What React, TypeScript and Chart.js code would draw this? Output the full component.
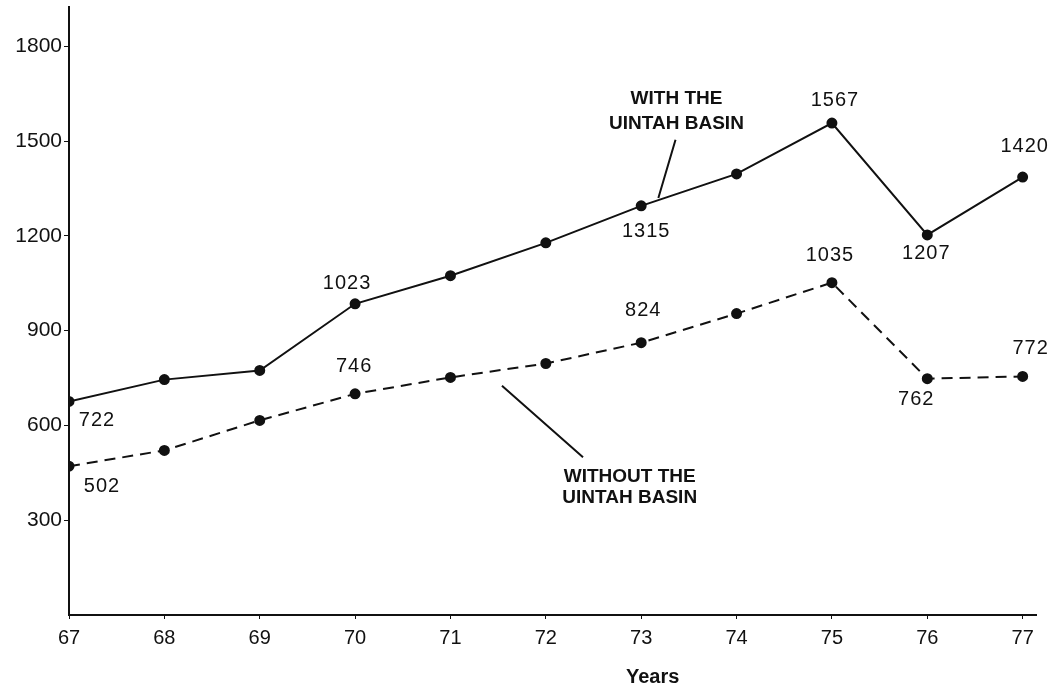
import React, { useEffect, useRef } from "react";
import { Chart, registerables } from "chart.js";

Chart.register(...registerables);

// ---- data ----
const years = [67, 68, 69, 70, 71, 72, 73, 74, 75, 76, 77];
const withBasin = [676, 745, 774, 985, 1074, 1178, 1295, 1396, 1557, 1203, 1386];
const withoutBasin = [471, 521, 616, 700, 752, 796, 862, 954, 1052, 748, 755];
const withLabels = ["722", "", "", "1023", "", "", "1315", "", "1567", "1207", "1420"];
const withoutLabels = ["502", "", "", "746", "", "", "824", "", "1035", "762", "772"];
const yTickValues = [300, 600, 900, 1200, 1500, 1800];
const xTitle = "Years";
const withName = ["WITH THE", "UINTAH BASIN"];
const withoutName = ["WITHOUT THE", "UINTAH BASIN"];

// ---- label placement (pixel offsets from each point) ----
const withOffsets: Record<number, [number, number]> = {
  0: [28, 19], 3: [-8, -20], 6: [5, 26], 8: [3, -23], 9: [-1, 19], 10: [2, -31],
};
const withoutOffsets: Record<number, [number, number]> = {
  0: [33, 20], 3: [-1, -27], 6: [2, -32], 8: [-2, -27], 9: [-11, 21], 10: [8, -28],
};

const FONT = "'Liberation Sans', Arial, Helvetica, sans-serif";

const annotationPlugin = {
  id: "annotations",
  afterDatasetsDraw(chart: any) {
    const ctx = chart.ctx as CanvasRenderingContext2D;
    const xs = chart.scales.x;
    const ys = chart.scales.y;
    ctx.save();
    ctx.fillStyle = "#111";
    ctx.textAlign = "center";
    ctx.textBaseline = "middle";
    ctx.font = `20px ${FONT}`;
    (ctx as any).letterSpacing = "1px";
    const drawLabels = (vals: number[], labels: string[], offs: Record<number, [number, number]>) => {
      labels.forEach((t, i) => {
        if (!t) return;
        const px = xs.getPixelForValue(years[i]);
        const py = ys.getPixelForValue(vals[i]);
        const o = offs[i] || [0, -20];
        ctx.fillText(t, px + o[0], py + o[1]);
      });
    };
    drawLabels(withBasin, withLabels, withOffsets);
    drawLabels(withoutBasin, withoutLabels, withoutOffsets);

    // series name annotations
    (ctx as any).letterSpacing = "0px";
    ctx.font = `bold 19px ${FONT}`;
    const wx = xs.getPixelForValue(73.37);
    ctx.fillText(withName[0], wx, ys.getPixelForValue(1634));
    ctx.fillText(withName[1], wx, ys.getPixelForValue(1555));
    const ox = xs.getPixelForValue(72.88);
    ctx.fillText(withoutName[0], ox, ys.getPixelForValue(436));
    ctx.fillText(withoutName[1], ox, ys.getPixelForValue(370));

    // leader lines
    ctx.strokeStyle = "#111";
    ctx.lineWidth = 2;
    ctx.beginPath();
    ctx.moveTo(xs.getPixelForValue(73.36), ys.getPixelForValue(1504));
    ctx.lineTo(xs.getPixelForValue(73.18), ys.getPixelForValue(1320));
    ctx.moveTo(xs.getPixelForValue(71.54), ys.getPixelForValue(726));
    ctx.lineTo(xs.getPixelForValue(72.39), ys.getPixelForValue(499));
    ctx.stroke();

    // axis title
    ctx.font = `bold 20px ${FONT}`;
    ctx.fillText(xTitle, xs.getPixelForValue(73.12), 677);
    ctx.restore();
  },
};

export default function App() {
  const ref = useRef<HTMLCanvasElement | null>(null);
  useEffect(() => {
    if (!ref.current) return;
    const chart = new Chart(ref.current, {
      type: "line",
      data: {
        datasets: [
          {
            label: "With the Uintah Basin",
            data: years.map((x, i) => ({ x, y: withBasin[i] })),
            borderColor: "#111",
            backgroundColor: "#111",
            borderWidth: 2,
            pointRadius: 4.5,
            pointBackgroundColor: "#111",
            pointBorderColor: "#111",
            tension: 0,
          },
          {
            label: "Without the Uintah Basin",
            data: years.map((x, i) => ({ x, y: withoutBasin[i] })),
            borderColor: "#111",
            backgroundColor: "#111",
            borderWidth: 2,
            borderDash: [11, 7],
            pointRadius: 4.5,
            pointBackgroundColor: "#111",
            pointBorderColor: "#111",
            tension: 0,
          },
        ],
      },
      options: {
        responsive: false,
        animation: false,
        layout: { padding: { left: 0, right: 19, top: 5, bottom: 0 } },
        plugins: { legend: { display: false }, tooltip: { enabled: false } },
        scales: {
          x: {
            type: "linear",
            min: 67,
            max: 77.14,
            afterBuildTicks: (s: any) => {
              s.ticks = years.map((v) => ({ value: v }));
            },
            afterFit: (s: any) => {
              s.height = 71;
              s.paddingLeft = 0;
              s.paddingRight = 0;
            },
            ticks: {
              color: "#111",
              font: { family: FONT, size: 20 },
              padding: 7,
              maxRotation: 0,
              callback: (v: any) => String(v),
            },
            grid: { drawOnChartArea: false, drawTicks: true, tickLength: 4, color: "#111" },
            border: { display: true, color: "#111", width: 2 },
          },
          y: {
            type: "linear",
            min: 0,
            max: 1926,
            afterBuildTicks: (s: any) => {
              s.ticks = yTickValues.map((v) => ({ value: v }));
            },
            afterFit: (s: any) => {
              s.width = 69;
              s.paddingTop = 0;
              s.paddingBottom = 0;
            },
            ticks: {
              color: "#111",
              font: { family: FONT, size: 21 },
              padding: 2,
              callback: (v: any) => String(v),
            },
            grid: { drawOnChartArea: false, drawTicks: true, tickLength: 5, color: "#111" },
            border: { display: true, color: "#111", width: 2 },
          },
        },
      },
      plugins: [annotationPlugin],
    });
    return () => chart.destroy();
  }, []);
  return (
    <div style={{ position: "fixed", left: 0, top: 0, width: 1055, height: 686, background: "#fff" }}>
      <canvas ref={ref} width={1055} height={686} />
    </div>
  );
}
